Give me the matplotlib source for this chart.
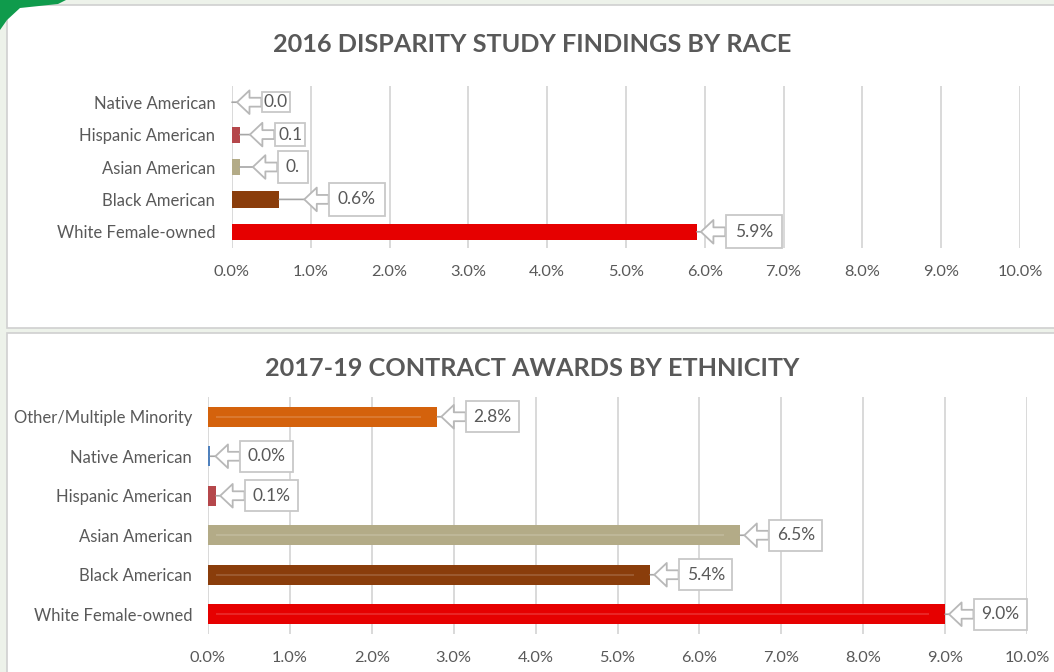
import matplotlib
matplotlib.use("Agg")
import matplotlib.pyplot as plt
from matplotlib.patches import Rectangle, Polygon

# ---------------- data ----------------
top_title = "2016 DISPARITY STUDY FINDINGS BY RACE"
top_categories = ["Native American", "Hispanic American", "Asian American",
                  "Black American", "White Female-owned"]
top_values = [0.0, 0.1, 0.1, 0.6, 5.9]
top_labels = ["0.0", "0.1", "0.", "0.6%", "5.9%"]
top_colors = ["#4f81bd", "#b5474b", "#b3ab87", "#8a3d0b", "#e60000"]

bot_title = "2017-19 CONTRACT AWARDS BY ETHNICITY"
bot_categories = ["Other/Multiple Minority", "Native American", "Hispanic American",
                  "Asian American", "Black American", "White Female-owned"]
bot_values = [2.8, 0.03, 0.1, 6.5, 5.4, 9.0]
bot_labels = ["2.8%", "0.0%", "0.1%", "6.5%", "5.4%", "9.0%"]
bot_colors = ["#d4620c", "#4f81bd", "#b5474b", "#b3ab87", "#8a3d0b", "#e60000"]

x_ticks = [0, 1, 2, 3, 4, 5, 6, 7, 8, 9, 10]
x_ticklabels = ["0.0%", "1.0%", "2.0%", "3.0%", "4.0%", "5.0%", "6.0%",
                "7.0%", "8.0%", "9.0%", "10.0%"]

# ---------------- layout ----------------
W, H = 1054, 672
plt.rcParams['font.family'] = ['Lato', 'DejaVu Sans']
fig = plt.figure(figsize=(W / 100, H / 100), dpi=100)
fig.patch.set_facecolor("#edf2ea")

def fx(px):
    return px / W

def fy(py):
    return 1 - py / H

# background panels
fig.patches.append(Rectangle((fx(7), fy(328)), fx(1060) - fx(7), fy(5) - fy(328),
                             transform=fig.transFigure, facecolor="white",
                             edgecolor="#d0d0d0", lw=1.2, zorder=-10))
fig.patches.append(Rectangle((fx(7), fy(680)), fx(1060) - fx(7), fy(333) - fy(680),
                             transform=fig.transFigure, facecolor="white",
                             edgecolor="#d0d0d0", lw=1.2, zorder=-10))
# green corner decoration
fig.patches.append(Polygon([(fx(0), fy(0)), (fx(66), fy(0)), (fx(58), fy(4)),
                            (fx(20), fy(8)), (fx(7), fy(20)), (fx(0), fy(30))],
                           closed=True, transform=fig.transFigure,
                           facecolor="#0f9b4c", edgecolor="none", zorder=-9))

text_color = "#595959"
grid_color = "#d9d9d9"
LBL_FS = 12.5


def draw_chart(rect, cats, vals, labels, colors, title, title_y, gaps, pads,
               lab_pad, inner_line):
    ax = fig.add_axes(rect)
    ax.set_facecolor("none")
    n = len(cats)
    ypos = list(range(n))
    ax.barh(ypos, vals, height=0.5, color=colors, zorder=3)
    if inner_line:
        for i, v in enumerate(vals):
            if v > 0.5:
                ax.hlines(i, 0.1, v - 0.2, color="white", alpha=0.18, lw=1.2, zorder=3.5)
    ax.set_xlim(0, 10)
    ax.set_ylim(n - 0.5, -0.5)
    ax.set_xticks(x_ticks)
    ax.set_xticklabels(x_ticklabels)
    ax.set_yticks(ypos)
    ax.set_yticklabels(cats)
    ax.tick_params(axis='x', length=0, pad=12, labelsize=11.8, labelcolor=text_color)
    ax.tick_params(axis='y', length=0, pad=lab_pad, labelsize=12, labelcolor=text_color)
    for s in ax.spines.values():
        s.set_visible(False)
    ax.grid(axis='x', color=grid_color, lw=1.4, zorder=0)
    ax.set_axisbelow(True)

    for i, (v, lab, g, p) in enumerate(zip(vals, labels, gaps, pads)):
        ax.annotate("", xy=(v, i), xycoords='data',
                    xytext=(g, 0), textcoords='offset pixels',
                    arrowprops=dict(arrowstyle='-', color="#a6a6a6", lw=1.2,
                                    shrinkA=0, shrinkB=0), zorder=4)
        pad_px = p * LBL_FS * 100 / 72
        ax.annotate(lab, xy=(v, i), xycoords='data',
                    xytext=(g + 25 + pad_px, 0), textcoords='offset pixels',
                    ha='left', va='center', fontsize=LBL_FS, color=text_color,
                    bbox=dict(boxstyle=f'square,pad={p}', fc='white',
                              ec='#c8c8c8', lw=1.3),
                    arrowprops=dict(arrowstyle='simple,head_length=0.45,head_width=0.85,tail_width=0.32',
                                    fc='white', ec='#b8b8b8', lw=1.3,
                                    shrinkA=0, shrinkB=g * 0.72, relpos=(0, 0.5),
                                    mutation_scale=20),
                    zorder=5)
    fig.text(0.505, fy(title_y), title, ha='center', va='center',
             fontsize=18.2, fontweight='bold', color=text_color)
    return ax


top_rect = [fx(232), fy(248), fx(1020) - fx(232), fy(86) - fy(248)]
bot_rect = [fx(208), fy(634), fx(1027) - fx(208), fy(397) - fy(634)]

draw_chart(top_rect, top_categories, top_values, top_labels, top_colors,
           top_title, 45, [5, 10, 13, 25, 4], [0.1, 0.18, 0.45, 0.5, 0.5], 12,
           False)
draw_chart(bot_rect, bot_categories, bot_values, bot_labels, bot_colors,
           bot_title, 368, [4, 5, 4, 4, 4, 4], [0.42] * 6, 11.5, True)

fig.savefig("out.png", dpi=100, facecolor=fig.get_facecolor())
